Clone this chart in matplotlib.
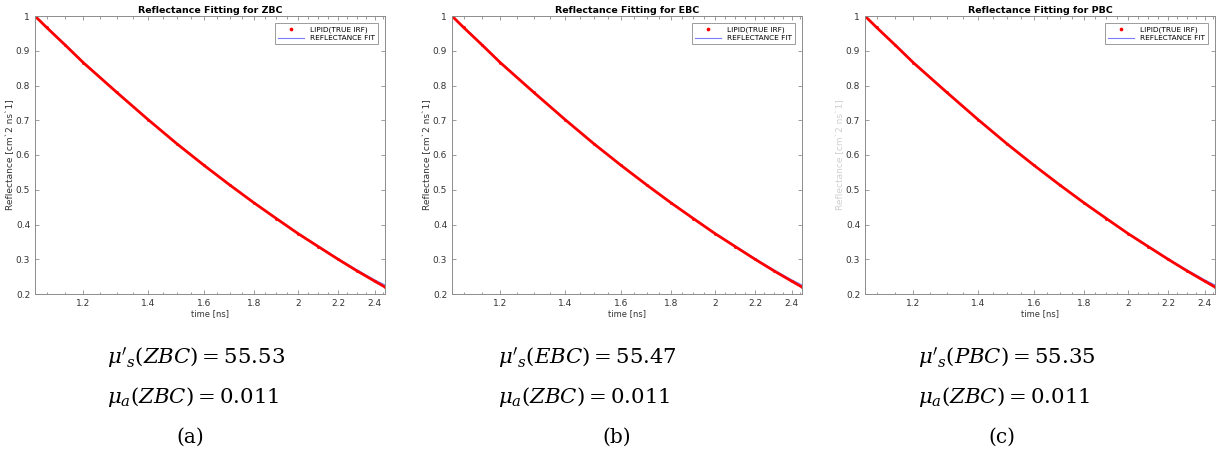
import numpy as np
import matplotlib
matplotlib.use("Agg")
import matplotlib.pyplot as plt
from matplotlib.ticker import FixedLocator, NullFormatter

plt.rcParams['mathtext.fontset'] = 'dejavuserif'

# values
t_ns = [1.07, 1.1, 1.15, 1.2, 1.3, 1.4, 1.5, 1.6, 1.7, 1.8, 1.9, 2.0, 2.1, 2.2, 2.3, 2.4, 2.46]
refl = [1.00, 0.967, 0.916, 0.866, 0.780, 0.702, 0.632, 0.570, 0.514, 0.463, 0.417, 0.374,
        0.336, 0.300, 0.267, 0.237, 0.220]
refl_fit = [1.00, 0.968, 0.918, 0.868, 0.782, 0.703, 0.633, 0.571, 0.515, 0.464, 0.418, 0.375,
            0.338, 0.302, 0.270, 0.241, 0.226]

bcs = ['ZBC', 'EBC', 'PBC']
mus = ['55.53', '55.47', '55.35']
mua_label = ['ZBC', 'ZBC', 'ZBC']
mua = ['0.011', '0.011', '0.011']
letters = ['(a)', '(b)', '(c)']

xticks = [1.2, 1.4, 1.6, 1.8, 2, 2.2, 2.4]
xticklabels = ['1.2', '1.4', '1.6', '1.8', '2', '2.2', '2.4']
yticks = [0.2, 0.3, 0.4, 0.5, 0.6, 0.7, 0.8, 0.9, 1]
yticklabels = ['0.2', '0.3', '0.4', '0.5', '0.6', '0.7', '0.8', '0.9', '1']

W, H = 1216, 459
fig = plt.figure(figsize=(W / 100, H / 100), dpi=100)

ax_left = [35, 452, 865]
ax_w = 350
ax_top, ax_bot = 16, 294
txt_left = [107, 498, 918]
letter_x = [190, 617, 1002]

spine_col = '#8c8c8c'
txt_col = '#333333'

for i in range(3):
    ax = fig.add_axes([ax_left[i] / W, 1 - ax_bot / H, ax_w / W, (ax_bot - ax_top) / H])
    ax.plot(t_ns, refl, color='red', lw=2.0, solid_capstyle='round', zorder=2)
    ax.plot(t_ns, refl, '.', color='red', ms=2.2, label='LIPID(TRUE IRF)', zorder=2)
    ax.plot(t_ns, refl_fit, color='#7b7bff', lw=0.8, label='REFLECTANCE FIT', zorder=1)

    ax.set_xscale('log')
    ax.set_xlim(1.07, 2.46)
    ax.set_ylim(0.2, 1.0)
    ax.xaxis.set_major_locator(FixedLocator(xticks))
    ax.set_xticklabels(xticklabels)
    ax.xaxis.set_minor_locator(FixedLocator(np.arange(1.1, 2.46, 0.05)))
    ax.xaxis.set_minor_formatter(NullFormatter())
    ax.set_yticks(yticks)
    ax.set_yticklabels(yticklabels)

    ax.tick_params(which='both', direction='in', top=True, right=True,
                   color=spine_col, labelsize=6.5, labelcolor=txt_col, width=0.6)
    ax.tick_params(which='major', length=3)
    ax.tick_params(which='minor', length=1.8)
    for s in ax.spines.values():
        s.set_color(spine_col)
        s.set_linewidth(0.7)

    ax.set_title(f'Reflectance Fitting for {bcs[i]}', fontsize=6.8, fontweight='bold', pad=2)
    ax.set_xlabel('time [ns]', fontsize=6, color=txt_col, labelpad=1)
    ylab_col = txt_col if i < 2 else '#d0d0d0'
    ax.set_ylabel('Reflectance [cm`2 ns`1]', fontsize=6.5, color=ylab_col, labelpad=0.5)

    leg = ax.legend(loc='upper right', fontsize=5.3, fancybox=False, framealpha=1,
                    edgecolor=spine_col, handlelength=3.5, borderpad=0.4,
                    labelspacing=0.3, borderaxespad=1.0, markerscale=1.5)
    leg.get_frame().set_linewidth(0.6)

    fig.text(txt_left[i] / W, 1 - 358 / H, rf"$\mu'_s({bcs[i]}) = {mus[i]}$",
             fontsize=15.3, ha='left', va='center')
    fig.text(txt_left[i] / W, 1 - 397 / H, rf"$\mu_a({mua_label[i]}) = {mua[i]}$",
             fontsize=15.3, ha='left', va='center')
    fig.text(letter_x[i] / W, 1 - 437 / H, letters[i], fontsize=14.5,
             family='DejaVu Serif', ha='center', va='center')

fig.savefig('out.png', dpi=100)
